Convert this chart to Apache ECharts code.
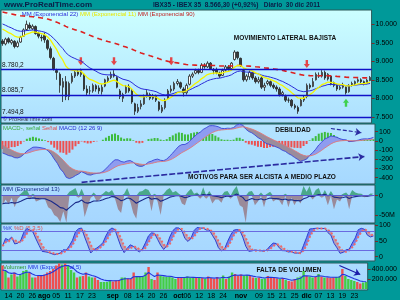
<!DOCTYPE html>
<html><head><meta charset="utf-8">
<script src="https://cdn.jsdelivr.net/npm/echarts@6/dist/echarts.min.js"></script>
<style>html,body{margin:0;padding:0;background:#009999}#c{width:400px;height:300px}</style>
</head><body><div id="c"></div>
<script>
// ---------- data ----------
const dates = ['07-12','07-13','07-14','07-15','07-18','07-19','07-20','07-21','07-22','07-25','07-26','07-27','07-28','07-29',
'08-01','08-02','08-03','08-04','08-05','08-08','08-09','08-10','08-11','08-12','08-15','08-16','08-17','08-18','08-19','08-22','08-23','08-24','08-25','08-26','08-29','08-30','08-31',
'09-01','09-02','09-05','09-06','09-07','09-08','09-09','09-12','09-13','09-14','09-15','09-16','09-19','09-20','09-21','09-22','09-23','09-26','09-27','09-28','09-29','09-30',
'10-03','10-04','10-05','10-06','10-07','10-10','10-11','10-12','10-13','10-14','10-17','10-18','10-19','10-20','10-21','10-24','10-25','10-26','10-27','10-28','10-31',
'11-01','11-02','11-03','11-04','11-07','11-08','11-09','11-10','11-11','11-14','11-15','11-16','11-17','11-18','11-21','11-22','11-23','11-24','11-25','11-28','11-29','11-30',
'12-01','12-02','12-05','12-06','12-07','12-08','12-09','12-12','12-13','12-14','12-15','12-16','12-19','12-20','12-21','12-22','12-23','12-27','12-28','12-29','12-30'];
// [open, close, low, high]
const ohlc = [
[9550,9480,9420,9600],[9470,9600,9430,9640],[9610,9520,9480,9650],[9500,9560,9450,9600],[9540,9400,9350,9570],
[9400,9500,9370,9560],[9520,9650,9500,9690],[9680,9850,9660,9890],[9860,10000,9820,10100],[9980,9900,9860,10050],
[9880,9950,9840,10000],[9940,9750,9720,9970],[9760,9680,9620,9800],[9650,9630,9540,9720],[9700,9580,9500,9780],
[9560,9350,9300,9600],[9340,9100,9050,9400],[9080,8800,8750,9120],[8750,8700,8500,8800],[8650,8350,8150,8700],
[8300,8450,7900,8550],[8450,8050,7950,8600],[8050,8400,7950,8450],[8450,8600,8400,8680],[8600,8700,8550,8760],
[8720,8650,8600,8780],[8640,8750,8580,8800],[8650,8250,8200,8680],[8250,8150,8080,8350],[8200,8200,8100,8330],
[8200,8350,8150,8400],[8340,8250,8180,8380],[8280,8200,8120,8350],[8180,8300,8100,8380],[8330,8500,8300,8530],
[8480,8550,8420,8600],[8560,8650,8520,8720],[8660,8600,8560,8760],[8560,8300,8270,8600],[8200,8050,7980,8250],
[8000,8100,7900,8150],[8150,8300,8120,8360],[8320,8200,8150,8380],[8200,7900,7850,8250],[7850,7650,7550,7880],
[7650,7750,7600,7850],[7780,7850,7700,7950],[7850,8050,7820,8100],[8080,8150,8020,8220],[8100,8000,7950,8150],
[8000,8050,7960,8120],[8060,7950,7900,8100],[7900,7700,7650,7920],[7650,7750,7600,7820],[7750,7950,7700,8000],
[8000,8200,7980,8250],[8200,8250,8150,8350],[8250,8400,8200,8450],[8400,8450,8350,8520],[8420,8300,8250,8450],
[8250,8150,8050,8300],[8150,8350,8100,8400],[8380,8600,8350,8650],[8600,8650,8550,8700],[8680,8750,8650,8800],
[8750,8700,8650,8800],[8700,8900,8680,8950],[8900,8850,8800,8950],[8850,8950,8820,9000],[8950,8800,8780,8980],
[8780,8750,8650,8820],[8780,8700,8650,8830],[8680,8600,8550,8720],[8620,8750,8600,8800],[8760,8850,8720,8900],
[8850,8800,8750,8900],[8800,8950,8760,8980],[9050,9250,9020,9300],[9250,9100,9050,9260],[9080,8900,8850,9100],
[8750,8500,8450,8800],[8500,8600,8450,8650],[8580,8700,8500,8750],[8700,8550,8500,8720],[8550,8450,8400,8600],
[8450,8500,8400,8580],[8550,8300,8250,8600],[8300,8350,8200,8420],[8400,8450,8350,8500],[8450,8350,8300,8480],
[8350,8300,8250,8400],[8300,8250,8180,8350],[8250,8100,8050,8300],[8100,8150,8050,8200],[8050,7950,7900,8100],
[7950,7950,7880,8020],[7950,7800,7750,7980],[7800,7750,7700,7850],[7750,7650,7580,7800],[7800,7950,7780,8000],
[7950,8000,7900,8080],[8050,8350,8000,8400],[8350,8300,8250,8400],[8320,8450,8300,8550],[8500,8650,8480,8700],
[8620,8600,8550,8700],[8600,8700,8560,8760],[8700,8550,8500,8750],[8520,8650,8480,8680],[8600,8400,8350,8620],
[8420,8350,8300,8450],[8350,8250,8200,8380],[8260,8300,8220,8340],[8300,8350,8260,8420],[8300,8150,8100,8320],
[8180,8350,8150,8380],[8350,8400,8320,8450],[8400,8450,8360,8480],[8460,8500,8420,8540],[8500,8450,8400,8540],
[8450,8400,8350,8480],[8400,8490,8380,8520],[8480,8566.3,8460,8600]];
const volume = [470000,360000,230000,290000,330000,250000,280000,360000,380000,330000,
230000,230000,260000,260000,290000,330000,360000,400000,470000,510000,
490000,510000,470000,380000,330000,230000,250000,260000,330000,250000,
230000,230000,180000,140000,140000,140000,180000,150000,170000,180000,
230000,230000,210000,200000,330000,250000,250000,250000,330000,440000,
200000,180000,330000,270000,250000,240000,250000,230000,200000,230000,
230000,230000,250000,230000,230000,220000,230000,220000,200000,250000,
220000,200000,240000,210000,270000,200000,250000,330000,300000,270000,
290000,270000,280000,260000,230000,220000,230000,200000,210000,260000,
230000,220000,210000,200000,220000,180000,160000,150000,200000,230000,
250000,360000,260000,250000,230000,240000,300000,250000,230000,230000,
220000,230000,240000,250000,400000,260000,200000,180000,160000,140000,
110000,130000,140000];
// force indicator panel (millions)
const forceM = [-25,-10,-22,-5,-30,-8,5,12,15,-10,
5,-15,-12,-8,-10,-30,-35,-50,-55,-68,
-40,-70,10,15,20,-5,18,-55,-30,-5,
8,-15,-10,5,12,8,15,-8,-35,-45,
5,20,-15,-45,-60,10,12,18,15,-40,
5,-15,-50,5,15,20,8,12,5,-20,
-25,10,18,5,8,-8,22,-8,12,-20,
-10,-10,-18,10,12,-8,15,25,-25,-30,
-70,10,12,-25,-15,8,-30,5,10,-15,
-10,-12,-25,5,-30,-5,-25,-10,-20,25,
10,25,-10,15,20,-5,15,-25,12,-35,
-10,-15,5,8,-35,15,8,6,5,-4,
-3,6,5];
const tickIdx  = [2,6,10,14,18,22,26,30,37,42,46,50,54,59,62,66,70,74,80,86,90,94,98,102,106,110,114,118];
const tickText = ['14','20','26','ago','05','11','17','23','sep','08','14','20','26','oct','06','12','18','24','nov','09','15','21','25','dic','07','13','19','23'];
const priceTicks = [7500,8000,8500,9000,9500,10000];
const macdTicks  = [-400,-300,-200,-100,0,100];
const forceTicks = [-50,0];
const stochTicks = [0,50,100];
const volTicks   = [200000,400000];
const levels = [8780.2, 8085.7, 7494.8];
const trendLine = [[0,10550],[122,8620]];
const sellArrows = [[26,9000],[37,9000],[56,9000],[101,8930]];
const buyArrows = [[114,7880]];
const macdArrowLong = [[26,-450],[119,-170]];
const macdArrowShort = [[108,135],[118,90]];
const volArrow = [[113,470000],[120,290000]];
// indicator states just before the first bar
const seedEma = {e11: 9950, e22: 10060, e90: 10350, e12: 9960, e26: 10060};
const seedSignal = -20, seedForce13 = -20, seedVol5 = 330000;

// ---------- indicators derived from the data ----------
const close = ohlc.map(d => d[1]);
function ema(src, n, seed){ const a = 2/(n+1); let e = seed; return src.map(v => (e = e + a*(v - e))); }
function sma(src, n){ return src.map((v,i) => { const s = src.slice(Math.max(0,i-n+1), i+1); return s.reduce((a,b)=>a+b,0)/s.length; }); }
const ema11 = ema(close, 11, seedEma.e11), ema22 = ema(close, 22, seedEma.e22), ema90 = ema(close, 90, seedEma.e90);
const e12 = ema(close, 12, seedEma.e12), e26 = ema(close, 26, seedEma.e26);
const macd = e12.map((v,i) => v - e26[i]);
const signal = ema(macd, 9, seedSignal);
const hist = macd.map((v,i) => v - signal[i]);
const force13 = ema(forceM, 13, seedForce13);
const vol5 = ema(volume, 5, seedVol5);
const rawK = close.map((c,i) => { const w = ohlc.slice(Math.max(0,i-4), i+1); const hh = Math.max(...w.map(d=>d[3])), ll = Math.min(...w.map(d=>d[2])); return hh>ll ? (c-ll)/(hh-ll)*100 : 50; });
const stK = sma(rawK, 3), stD = sma(stK, 3);
function band(a,b){ return { base: a.map((v,i)=>Math.min(v,b[i])), up: a.map((v,i)=>Math.max(v-b[i],0)), dn: a.map((v,i)=>Math.max(b[i]-v,0)) }; }
const macdBand = band(macd, signal), stochBand = band(stK, stD);

// ---------- helpers ----------
const FONT = 'Liberation Sans';
function thousands(v){ const s = String(Math.round(Math.abs(v))).replace(/\B(?=(\d{3})+(?!\d))/g,'.'); return (v<0?'-':'')+s; }
function fmtLevel(v){ const p = v.toFixed(1).split('.'); return thousands(+p[0])+','+p[1]; }
const grad = (c1,c2) => new echarts.graphic.LinearGradient(0,0,0,1,[{offset:0,color:c1},{offset:1,color:c2}]);
const gridsPx = [[10,113],[124,60],[185,38],[224,37],[263,27]];
const gridBg = [grad('#ccffff','#addfff'), grad('#b4e4ff','#a6d8ff'), grad('#acdcff','#a6d6ff'), grad('#acdcff','#a6d6ff'), grad('#acdcff','#a6d6ff')];
const yRanges = [[7332,10387],[-468,184],[-70.7,27.7],[-13.6,103.2],[-20000,520000]];
const yTicks = [priceTicks, macdTicks, forceTicks, stochTicks, volTicks];
const yFmt = [v=>thousands(v), v=>String(v), v=>v===0?'0':v+'M', v=>String(v), v=>thousands(v)];
const months = ['ago','sep','oct','nov','dic'];

const lineS = (name, x, data, color, width, extra) => Object.assign({ type:'line', name, xAxisIndex:x, yAxisIndex:x, data, symbol:'none', silent:true, lineStyle:{color, width} }, extra||{});
const bandS = (x, b, stack, cUp, cDn) => [
  { type:'line', xAxisIndex:x, yAxisIndex:x, data:b.base, stack, stackStrategy:'all', symbol:'none', lineStyle:{opacity:0}, silent:true },
  { type:'line', xAxisIndex:x, yAxisIndex:x, data:b.up, stack, stackStrategy:'all', symbol:'none', lineStyle:{opacity:0}, areaStyle:{color:cUp, opacity:1}, silent:true },
  { type:'line', xAxisIndex:x, yAxisIndex:x, data:b.dn, stack, stackStrategy:'all', symbol:'none', lineStyle:{opacity:0}, areaStyle:{color:cDn, opacity:1}, silent:true }
];
const arrowLine = (pts, color, width, type) => [{ coord: pts[0], lineStyle:{color, width, type} }, { coord: pts[1] }];

const chart = echarts.init(document.getElementById('c'), null, {renderer:'canvas'});
const option = {
  backgroundColor: '#009999',
  animation: false,
  textStyle: { fontFamily: FONT },
  grid: gridsPx.map((g,i) => ({ left:1, right:25, top:g[0], height:g[1], show:true, backgroundColor:gridBg[i], borderColor:'#2b5858', borderWidth:1 })),
  xAxis: gridsPx.map((g,i) => ({
    type:'category', gridIndex:i, data:dates, boundaryGap:true,
    axisLine:{show:false}, axisTick:{show:false}, splitLine:{show:false},
    axisLabel: i===4 ? {
      show:true, fontSize:7, color:'#000', margin:3, fontFamily:FONT,
      interval:(idx)=>tickIdx.indexOf(idx)>=0,
      formatter:(v,idx)=>{ const k = tickIdx.indexOf(idx); if(k<0) return ''; const t = tickText[k]; return months.indexOf(t)>=0 ? '{b|'+t+'}' : t; },
      rich:{ b:{ fontWeight:'bold', fontSize:7, color:'#000', fontFamily:FONT } }
    } : {show:false}
  })),
  yAxis: gridsPx.map((g,i) => ({
    type:'value', gridIndex:i, position:'right', min:yRanges[i][0], max:yRanges[i][1], scale:true,
    splitLine:{show:false}, axisLine:{show:false},
    axisTick:{show:true, length:3, customValues:yTicks[i], lineStyle:{color:'#7a2a2a', width:1}},
    axisLabel:{show:true, customValues:yTicks[i], formatter:yFmt[i], fontSize:7, color:'#000', margin:4, fontFamily:FONT}
  })),
  series: [
    // ----- price panel -----
    { type:'candlestick', xAxisIndex:0, yAxisIndex:0, data:ohlc, barWidth:2, silent:true,
      itemStyle:{ color:'#ffffff', color0:'#3a3a3a', borderColor:'#222', borderColor0:'#222', borderWidth:0.8 },
      markLine:{ silent:true, symbol:['none','none'], animation:false,
        data: levels.map(v => ({ yAxis:v, lineStyle:{color:'#1010c8', width:1.4, type:'solid'},
              label:{show:true, position:'insideStartTop', formatter:fmtLevel(v), fontSize:6.5, color:'#111', distance:1, fontFamily:FONT} }))
          .concat([ arrowLine(trendLine, '#2a2ad8', 1.2, 'solid').map((p,k)=>k===0?Object.assign(p,{label:{show:false}}):p) ]) } },
    lineS('MM90', 0, ema90, '#dd2020', 1.6, { lineStyle:{color:'#dd2020', width:1.6, type:[5,4]} }),
    lineS('MM22', 0, ema22, '#2a2ad8', 1),
    lineS('MM11', 0, ema11, '#f4f400', 1.3),
    { type:'scatter', xAxisIndex:0, yAxisIndex:0, data:sellArrows, silent:true, symbol:'path://M3,0 L7,0 L7,6 L10,6 L5,12 L0,6 L3,6 Z', symbolSize:[6,8], itemStyle:{color:'#ee1a1a'} },
    { type:'scatter', xAxisIndex:0, yAxisIndex:0, data:buyArrows, silent:true, symbol:'path://M5,0 L10,6 L7,6 L7,12 L3,12 L3,6 L0,6 Z', symbolSize:[6,8], itemStyle:{color:'#22cc22'} },
    // ----- MACD panel -----
    { type:'bar', xAxisIndex:1, yAxisIndex:1, silent:true, barWidth:2,
      data: hist.map(v => ({ value:v, itemStyle:{ color: v>=0 ? '#3cbc3c' : '#ee5050' } })),
      markLine:{ silent:true, symbol:['none','arrow'], symbolSize:6, animation:false, label:{show:false},
        data:[ [{yAxis:0, symbol:'none', lineStyle:{color:'#4a4ad0', width:1, type:'solid'}}, {x:'100%', yAxis:0, symbol:'none'}],
               arrowLine(macdArrowLong, '#2a2aa0', 1.6, [6,2]),
               arrowLine(macdArrowShort, '#2a2aa0', 1.2, [4,2]) ] } },
    ...bandS(1, macdBand, 'macdband', '#8e9cf0', '#9a8c9c'),
    lineS('MACD', 1, macd, '#3a46d8', 0.9),
    lineS('Señal', 1, signal, '#e07878', 0.9),
    // ----- force panel -----
    lineS('fpos', 2, forceM.map(v=>Math.max(v,0)), '#4aa88a', 0, { areaStyle:{color:'#4aa88a', opacity:1}, lineStyle:{width:0}, clip:true }),
    lineS('fneg', 2, forceM.map(v=>Math.min(v,0)), '#9a8a9a', 0, { areaStyle:{color:'#9a8a9a', opacity:1}, lineStyle:{width:0}, clip:true,
      markLine:{ silent:true, symbol:['none','none'], label:{show:false}, animation:false, data:[{yAxis:0, lineStyle:{color:'#5a5ad0', width:1, type:'solid'}}] } }),
    lineS('MM13', 2, force13, '#1a2a8a', 1.1, { clip:true }),
    // ----- stochastic panel -----
    ...bandS(3, stochBand, 'stband', '#6f7ff0', '#b8a0b4'),
    lineS('%K', 3, stK, '#2f3fd0', 1, { markLine:{ silent:true, symbol:['none','none'], label:{show:false}, animation:false,
      data:[{yAxis:80, lineStyle:{color:'#6a6ae0', width:1, type:'solid'}}, {yAxis:20, lineStyle:{color:'#6a6ae0', width:1, type:'solid'}}] } }),
    lineS('%D', 3, stD, '#ee6a6a', 2, { lineStyle:{color:'#ee6a6a', width:2, type:'dotted'} }),
    // ----- volume panel -----
    { type:'bar', xAxisIndex:4, yAxisIndex:4, silent:true, barWidth:2.4,
      data: volume.map((v,i) => ({ value:v, itemStyle:{ color: ohlc[i][1] >= ohlc[i][0] ? '#44cc44' : '#ee5050' } })),
      markLine:{ silent:true, symbol:['none','arrow'], symbolSize:6, label:{show:false}, animation:false,
        data:[ arrowLine(volArrow, '#1a1aa8', 1.2, 'solid') ] } },
    lineS('vol5', 4, vol5, '#2233dd', 1.1)
  ],
  graphic: [
    { type:'text', left:4, top:1, style:{ text:'www.ProRealTime.com', fontSize:8, fontWeight:'bold', fill:'#0a1e46', fontFamily:FONT } },
    { type:'text', left:153, top:2, style:{ text:'IBX35 - IBEX 35  8.566,30 (+0,92%)   Diario  30 dic 2011', fontSize:6.5, fontWeight:'bold', fill:'#0a1e46', fontFamily:FONT } },
    { type:'text', left:3, top:11, style:{ rich:{ a:{fill:'#f4ffff'}, b:{fill:'#2a2ad8'}, c:{fill:'#e8e800'}, d:{fill:'#c02020'} },
        text:'{a|Precio} {b|MM (Exponencial 22)} {c|MM (Exponencial 11)} {d|MM (Exponencial 90)}', fontSize:6, fontFamily:FONT } },
    { type:'text', left:3, top:116, style:{ text:'© ProRealTime.com', fontSize:5.5, fill:'#334', fontFamily:FONT } },
    { type:'text', left:3, top:125, style:{ rich:{ a:{fill:'#3aaa3a'}, b:{fill:'#e05050'}, c:{fill:'#2a2ad0'} },
        text:'{a|MACD-, señal} {b|Señal} {c|MACD (12 26 9)}', fontSize:6, fontFamily:FONT } },
    { type:'text', left:3, top:186, style:{ text:'MM (Exponencial 13)', fontSize:6, fill:'#1a2a8a', fontFamily:FONT } },
    { type:'text', left:3, top:225, style:{ rich:{ a:{fill:'#2f3fd0'}, b:{fill:'#e05050'} }, text:'{a|%K} {b|%D (5,3,5)}', fontSize:6, fontFamily:FONT } },
    { type:'text', left:3, top:264, style:{ rich:{ a:{fill:'#2a9a2a'}, b:{fill:'#2233dd'} }, text:'{a|Volumen} {b|MM (Exponencial 5)}', fontSize:6, fontFamily:FONT } },
    { type:'text', x:285, y:38, style:{ text:'MOVIMIENTO LATERAL BAJISTA', fontSize:6.5, fontWeight:'bold', fill:'#111', align:'center', verticalAlign:'middle', fontFamily:FONT } },
    { type:'text', x:293, y:130, style:{ text:'DEBILIDAD', fontSize:6.5, fontWeight:'bold', fill:'#111', align:'center', verticalAlign:'middle', fontFamily:FONT } },
    { type:'text', x:262, y:177, style:{ text:'MOTIVOS PARA SER ALCISTA A MEDIO PLAZO', fontSize:6.5, fontWeight:'bold', fill:'#111', align:'center', verticalAlign:'middle', fontFamily:FONT } },
    { type:'text', x:289, y:270, style:{ text:'FALTA DE VOLUMEN', fontSize:6.5, fontWeight:'bold', fill:'#111', align:'center', verticalAlign:'middle', fontFamily:FONT } }
  ]
};
chart.setOption(option);
</script></body></html>
